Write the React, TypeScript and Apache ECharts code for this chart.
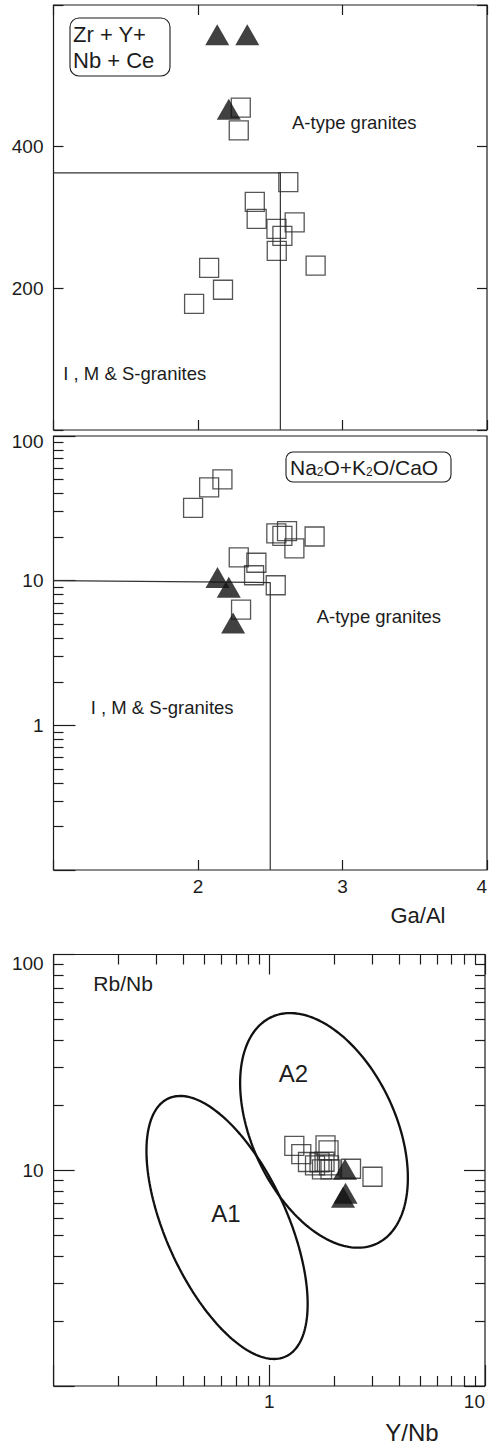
import React, { useEffect, useRef } from 'react';
import * as echarts from 'echarts';

// ---------- Panel 1: Zr+Y+Nb+Ce vs Ga/Al ----------
const p1SquaresGaAl = [2.296, 2.282, 2.625, 2.393, 2.406, 2.543, 2.669, 2.584, 2.545, 2.814, 2.077, 2.173, 1.973];
const p1SquaresZr = [455, 423, 350, 322, 298, 284, 293, 274, 253, 232, 229, 198, 178];
const p1TrianglesGaAl = [2.133, 2.341, 2.213];
const p1TrianglesZr = [558, 558, 453];
const p1Boundary = [[1, 363], [2.57, 363], [2.57, 0]];
const p1YLabels = [200, 400];

// ---------- Panel 2: (Na2O+K2O)/CaO vs Ga/Al ----------
const p2SquaresGaAl = [1.966, 2.077, 2.169, 2.282, 2.404, 2.388, 2.542, 2.584, 2.616, 2.667, 2.807, 2.538, 2.298];
const p2SquaresRatio = [31.9, 44.2, 50.1, 14.5, 13.3, 10.9, 21.2, 20.4, 22.0, 16.7, 20.2, 9.3, 6.3];
const p2TrianglesGaAl = [2.135, 2.213, 2.243];
const p2TrianglesRatio = [10.5, 9.0, 5.1];
const p2Boundary = [[1, 10], [2.5, 9.7], [2.5, 0.1]];
const p2XLabels = [2, 3, 4];
const p2YLabels = [1, 10, 100];
const p2YMajorTicks = [0.1, 1, 10, 100];
const p2YMinorTicks = [0.2, 0.3, 0.4, 0.5, 0.6, 0.7, 0.8, 0.9, 2, 3, 4, 5, 6, 7, 8, 9, 20, 30, 40, 50, 60, 70, 80, 90];

// ---------- Panel 3: Rb/Nb vs Y/Nb ----------
const p3SquaresYNb = [1.306, 1.407, 1.511, 1.629, 1.709, 1.803, 1.822, 1.882, 1.892, 1.922, 1.755, 2.392, 3.009];
const p3SquaresRbNb = [12.98, 11.89, 10.92, 10.54, 10.89, 10.95, 13.05, 12.37, 10.54, 10.1, 10.1, 10.16, 9.33];
const p3TrianglesYNb = [2.244, 2.257, 2.197];
const p3TrianglesRbNb = [10.1, 7.83, 7.5];
const p3XLabels = [1, 10];
const p3YLabels = [10, 100];
const p3XMajorTicks = [0.1, 1, 10];
const p3XMinorTicks = [0.2, 0.3, 0.4, 0.5, 0.6, 0.7, 0.8, 0.9, 2, 3, 4, 5, 6, 7, 8, 9];
const p3YMajorTicks = [1, 10, 100];
const p3YMinorTicks = [2, 3, 4, 5, 6, 7, 8, 9, 20, 30, 40, 50, 60, 70, 80, 90];
// field ellipses, defined in log10 space: centre (data units), semi-axes (decades), tilt (deg)
const ellipseA1 = { cx: 0.637, cy: 5.43, a: 0.657, b: 0.282, angle: -65.6 };
const ellipseA2 = { cx: 1.793, cy: 15.3, a: 0.579, b: 0.334, angle: -65.1 };

const FONT = '"Liberation Sans", Arial, Helvetica, sans-serif';
const INK = '#1c1c1c';

function ellipsePoints(e: { cx: number; cy: number; a: number; b: number; angle: number }, n = 200) {
  const th = (e.angle * Math.PI) / 180;
  const lx0 = Math.log10(e.cx);
  const ly0 = Math.log10(e.cy);
  const pts: number[][] = [];
  for (let i = 0; i <= n; i++) {
    const t = (2 * Math.PI * i) / n;
    const u = e.a * Math.cos(t);
    const v = e.b * Math.sin(t);
    pts.push([Math.pow(10, lx0 + u * Math.cos(th) - v * Math.sin(th)), Math.pow(10, ly0 + u * Math.sin(th) + v * Math.cos(th))]);
  }
  return pts;
}

const zip = (xs: number[], ys: number[]) => xs.map((x, i) => [x, ys[i]]);

const fmtNum = (v: number) => String(Number(Number(v).toPrecision(3)));

function axis(o: any) {
  const a: any = {
    gridIndex: o.gridIndex,
    position: o.position,
    type: o.type,
    min: o.min,
    max: o.max,
    axisLine: { show: false, onZero: false },
    splitLine: { show: false },
    minorTick: { show: false },
    axisTick: {
      show: true,
      inside: true,
      length: o.tickLen,
      lineStyle: { color: INK, width: 1.2 },
    },
    axisLabel: { show: false },
  };
  if (o.type === 'log') a.logBase = 10;
  else a.interval = o.interval;
  if (o.ticks) a.axisTick.customValues = o.ticks;
  if (o.labels) {
    a.axisLabel = {
      show: true,
      customValues: o.labels,
      margin: o.margin ?? 10,
      fontSize: 19,
      fontFamily: FONT,
      color: INK,
      formatter: o.formatter || ((v: number) => fmtNum(v)),
      rich: o.rich,
    };
    if (o.alignMaxLabel) a.axisLabel.alignMaxLabel = o.alignMaxLabel;
  }
  return a;
}

const squares = (xi: number, yi: number, data: number[][]) => ({
  type: 'scatter',
  xAxisIndex: xi,
  yAxisIndex: yi,
  data,
  symbol: 'rect',
  symbolSize: 19,
  itemStyle: { color: 'rgba(0,0,0,0)', borderColor: '#2a2a2a', borderWidth: 1.3 },
  silent: true,
  z: 3,
});
const triangles = (xi: number, yi: number, data: number[][]) => ({
  type: 'scatter',
  xAxisIndex: xi,
  yAxisIndex: yi,
  data,
  symbol: 'triangle',
  symbolSize: [24, 21],
  itemStyle: { color: '#111111' },
  silent: true,
  z: 4,
});
const line = (xi: number, yi: number, data: number[][], width: number, color: string) => ({
  type: 'line',
  xAxisIndex: xi,
  yAxisIndex: yi,
  data,
  symbol: 'none',
  showSymbol: false,
  smooth: false,
  lineStyle: { color, width },
  silent: true,
  z: 2,
});

const txt = (x: number, y: number, text: string, size: number, align = 'left', extra: any = {}) => ({
  type: 'text',
  x,
  y,
  silent: true,
  z: 10,
  style: {
    text,
    fill: INK,
    fontSize: size,
    fontFamily: FONT,
    align,
    textAlign: align,
    verticalAlign: 'middle',
    textVerticalAlign: 'middle',
    ...extra,
  },
});

export default function App() {
  const ref = useRef<HTMLDivElement>(null);
  useEffect(() => {
    if (!ref.current) return;
    const chart = echarts.init(ref.current, undefined, { renderer: 'svg' });
    const gridBase = { show: true, borderColor: INK, borderWidth: 1.2, backgroundColor: 'rgba(0,0,0,0)', containLabel: false, outerBoundsMode: 'none' };
    const option: any = {
      animation: false,
      backgroundColor: '#ffffff',
      grid: [
        { ...gridBase, left: 53.5, top: 5, width: 433.5, height: 425 },
        { ...gridBase, left: 53.5, top: 436, width: 433.5, height: 434 },
        { ...gridBase, left: 53.6, top: 954.5, width: 431.4, height: 431.5 },
      ],
      xAxis: [
        axis({ gridIndex: 0, position: 'bottom', type: 'value', min: 1, max: 4, interval: 1, tickLen: 10 }),
        axis({ gridIndex: 0, position: 'top', type: 'value', min: 1, max: 4, interval: 1, tickLen: 10 }),
        axis({ gridIndex: 1, position: 'bottom', type: 'value', min: 1, max: 4, interval: 1, tickLen: 10, labels: p2XLabels, margin: 7, alignMaxLabel: 'right' }),
        axis({ gridIndex: 2, position: 'bottom', type: 'log', min: 0.1, max: 10, ticks: p3XMajorTicks, tickLen: 21, labels: p3XLabels, margin: 6, alignMaxLabel: 'right' }),
        axis({ gridIndex: 2, position: 'bottom', type: 'log', min: 0.1, max: 10, ticks: p3XMinorTicks, tickLen: 10 }),
        axis({ gridIndex: 2, position: 'top', type: 'log', min: 0.1, max: 10, ticks: p3XMajorTicks, tickLen: 20 }),
        axis({ gridIndex: 2, position: 'top', type: 'log', min: 0.1, max: 10, ticks: p3XMinorTicks, tickLen: 10 }),
      ],
      yAxis: [
        axis({ gridIndex: 0, position: 'left', type: 'value', min: 0, max: 600, interval: 200, tickLen: 10, labels: p1YLabels, margin: 10 }),
        axis({ gridIndex: 0, position: 'right', type: 'value', min: 0, max: 600, interval: 200, tickLen: 10 }),
        axis({
          gridIndex: 1, position: 'left', type: 'log', min: 0.1, max: 100, ticks: p2YMajorTicks, tickLen: 22, labels: p2YLabels, margin: 10,
          formatter: (v: number) => (fmtNum(v) === '100' ? '{lo|100}' : fmtNum(v)),
          rich: { lo: { padding: [10, 0, 0, 0], fontSize: 19, fontFamily: FONT, color: INK } },
        }),
        axis({ gridIndex: 1, position: 'left', type: 'log', min: 0.1, max: 100, ticks: p2YMinorTicks, tickLen: 10 }),
        axis({
          gridIndex: 2, position: 'left', type: 'log', min: 1, max: 100, ticks: p3YMajorTicks, tickLen: 21, labels: p3YLabels, margin: 10,
          formatter: (v: number) => (fmtNum(v) === '100' ? '{lo|100}' : fmtNum(v)),
          rich: { lo: { padding: [18, 0, 0, 0], fontSize: 19, fontFamily: FONT, color: INK } },
        }),
        axis({ gridIndex: 2, position: 'left', type: 'log', min: 1, max: 100, ticks: p3YMinorTicks, tickLen: 10 }),
        axis({ gridIndex: 2, position: 'right', type: 'log', min: 1, max: 100, ticks: p3YMajorTicks, tickLen: 21 }),
        axis({ gridIndex: 2, position: 'right', type: 'log', min: 1, max: 100, ticks: p3YMinorTicks, tickLen: 10 }),
      ],
      series: [
        line(0, 0, p1Boundary, 1.2, '#333333'),
        squares(0, 0, zip(p1SquaresGaAl, p1SquaresZr)),
        triangles(0, 0, zip(p1TrianglesGaAl, p1TrianglesZr)),
        line(2, 2, p2Boundary, 1.2, '#333333'),
        squares(2, 2, zip(p2SquaresGaAl, p2SquaresRatio)),
        triangles(2, 2, zip(p2TrianglesGaAl, p2TrianglesRatio)),
        line(3, 4, ellipsePoints(ellipseA1), 2.3, '#111111'),
        line(3, 4, ellipsePoints(ellipseA2), 2.3, '#111111'),
        squares(3, 4, zip(p3SquaresYNb, p3SquaresRbNb)),
        triangles(3, 4, zip(p3TrianglesYNb, p3TrianglesRbNb)),
      ],
      graphic: [
        { type: 'rect', silent: true, z: 9, shape: { x: 70, y: 18, width: 100, height: 58, r: 9 }, style: { fill: 'rgba(0,0,0,0)', stroke: INK, lineWidth: 1.1 } },
        txt(73, 34, 'Zr + Y+', 22),
        txt(73, 60, 'Nb + Ce', 22),
        txt(292, 122, 'A-type granites', 18.5),
        txt(63.3, 373, 'I , M & S-granites', 18.5),
        { type: 'rect', silent: true, z: 9, shape: { x: 286, y: 452, width: 165, height: 30, r: 7 }, style: { fill: 'rgba(0,0,0,0)', stroke: INK, lineWidth: 1.1 } },
        txt(290, 467, 'Na{s|2}O+K{s|2}O/CaO', 21, 'left', {
          rich: { s: { fontSize: 12, fontFamily: FONT, fill: INK, verticalAlign: 'bottom' } },
        }),
        txt(316.7, 616, 'A-type granites', 18.5),
        txt(90.7, 707, 'I , M & S-granites', 18.5),
        txt(418, 915, 'Ga/Al', 22, 'center'),
        txt(93.3, 983, 'Rb/Nb', 21),
        txt(293.3, 1073, 'A2', 24, 'center'),
        txt(226, 1213, 'A1', 24, 'center'),
        txt(412, 1432, 'Y/Nb', 24, 'center'),
      ],
    };
    chart.setOption(option);
    return () => chart.dispose();
  }, []);
  return <div ref={ref} style={{ position: 'absolute', left: 0, top: 0, width: 489, height: 1444 }} />;
}
